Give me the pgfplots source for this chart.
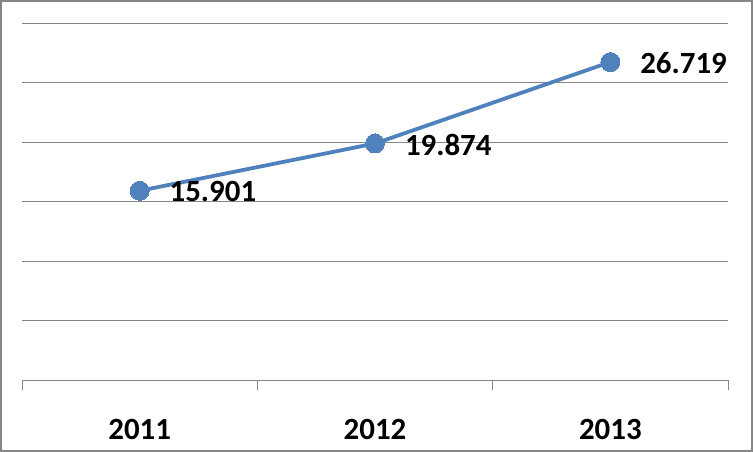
\documentclass[border=0pt]{standalone}
\usepackage{pgfplots}
\pgfplotsset{compat=1.18}
\usepackage{fontspec}
\setmainfont{Carlito}
\definecolor{excelblue}{HTML}{4F81BD}
\definecolor{gridgray}{HTML}{868686}
\begin{document}
\begin{tikzpicture}
\useasboundingbox (-22bp,-72bp) rectangle (731bp,380bp);
\begin{axis}[
  at={(0,0)}, anchor=origin,
  scale only axis,
  width=706bp, height=357bp,
  xmin=0.5, xmax=3.5, ymin=0, ymax=30,
  axis line style={draw=none},
  xtick={0.5,1.5,2.5,3.5},
  xticklabels={2011,2012,2013},
  x tick label as interval=true,
  xtick pos=bottom,
  tick align=outside,
  major tick length=10bp,
  xtick style={draw=gridgray, line width=0.8bp},
  ytick={0,5,...,30},
  yticklabels={},
  ytick style={draw=none},
  ymajorgrids=true,
  grid style={draw=gridgray, line width=0.8bp},
  xticklabel style={font=\fontsize{31}{31}\selectfont\bfseries, anchor=center, inner sep=0pt, yshift=-39bp},
  clip=false,
]
\addplot[color=excelblue, line width=3.8bp, mark=*, mark size=9.5bp,
  mark options={fill=excelblue, draw=excelblue, line width=0pt},
  point meta=explicit symbolic,
  nodes near coords,
  nodes near coords style={anchor=west, inner sep=0pt, xshift=30bp, yshift=-1bp, text=black, font=\fontsize{31}{31}\selectfont\bfseries},
] coordinates {
  (1,15.901) [15.901]
  (2,19.874) [19.874]
  (3,26.719) [26.719]
};
\end{axis}
\draw[draw=gridgray, line width=2.5bp] (-20.75bp,-70.75bp) rectangle (729.75bp,378.75bp);
\end{tikzpicture}
\end{document}
